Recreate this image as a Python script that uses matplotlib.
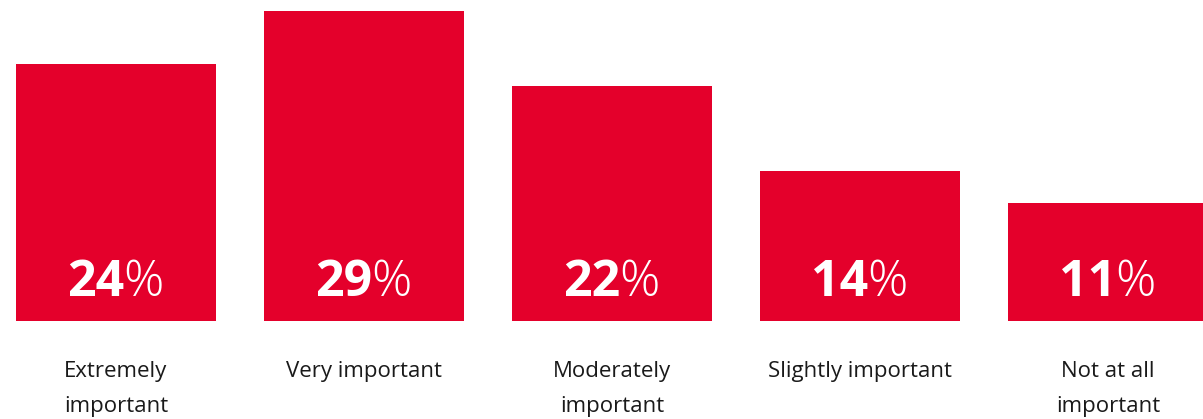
import matplotlib
matplotlib.use("Agg")
from matplotlib import pyplot as plt
import numpy as np

categories = [["Extremely", "important"], ["Very important"], ["Moderately", "important"],
              ["Slightly important"], ["Not at all", "important"]]
values = [24, 29, 22, 14, 11]

red = "#E4002B"
plt.rcParams['font.family'] = ['Open Sans', 'DejaVu Sans']

fig = plt.figure(figsize=(12.03, 4.19), dpi=100)
ax = fig.add_axes([0, 98/419, 1, 321/419])
x = np.arange(len(values))
ax.bar(x, values, width=200/248, color=red)
ax.set_xlim(-116/248, 1087/248)
ax.set_ylim(0, 30)
ax.axis('off')

fig.canvas.draw()
r = fig.canvas.get_renderer()
inv = ax.transData.inverted()
for xi, v, cat in zip(x, values, categories):
    num = ax.text(xi, 2.34, str(v), color='white', fontsize=36, fontweight='bold',
                  ha='left', va='baseline')
    pct = ax.text(xi, 2.34, '%', color='white', fontsize=36, fontweight='light',
                  ha='left', va='baseline')
    w1 = num.get_window_extent(r).width
    w2 = pct.get_window_extent(r).width
    # centre the number + % pair on the bar
    px = ax.transData.transform((xi, 0))[0]
    left = px - (w1 + w2) / 2
    num.set_x(inv.transform((left, 0))[0])
    pct.set_x(inv.transform((left + w1 - 1, 0))[0])
    for k, line in enumerate(cat):
        ax.annotate(line, xy=(xi, 42 - 35 * k), xycoords=('data', 'figure pixels'),
                    ha='center', va='baseline', fontsize=16, color='#1a1a1a')

fig.savefig("out.png", dpi=100)
